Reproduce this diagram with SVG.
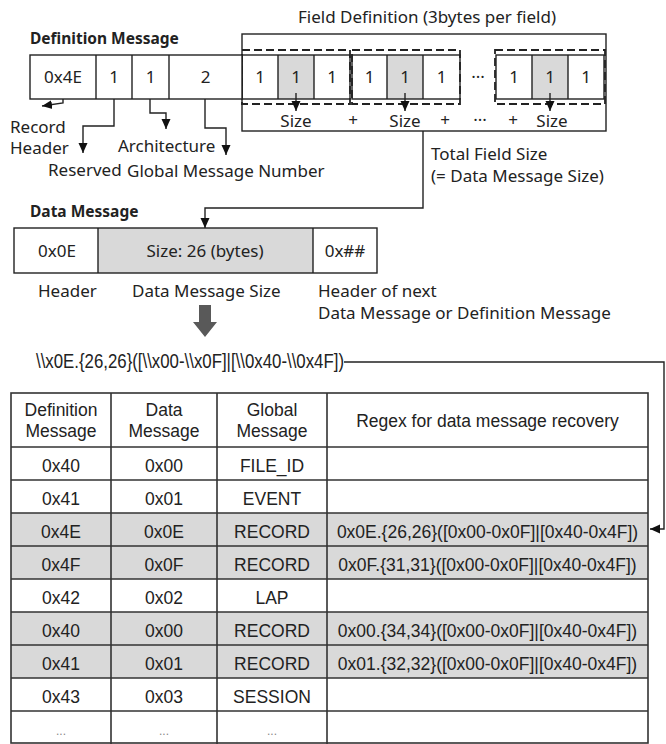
<svg xmlns="http://www.w3.org/2000/svg" width="666" height="744" viewBox="0 0 666 744">
<style>
.t{font-family:"Noto Sans","DejaVu Sans",sans-serif;font-size:17px;fill:#222}
.c{text-anchor:middle}
.b{font-family:"Noto Sans","DejaVu Sans",sans-serif;font-size:15.5px;font-weight:bold;fill:#222}
.tb{font-family:"Liberation Sans",Arial,sans-serif;font-size:17.5px;fill:#222;text-anchor:middle}
.el{font-family:"Liberation Sans",Arial,sans-serif;font-size:12px;fill:#888;text-anchor:middle}
.ln{fill:none;stroke:#222;stroke-width:1.4}
.cell{fill:#fff;stroke:#222;stroke-width:1.4}
.sh{fill:#d9d9d9}
.dash{fill:none;stroke:#222;stroke-width:1.8;stroke-dasharray:8 4}
.tl{stroke:#333;stroke-width:1.6;fill:none}
</style>
<defs>
<marker id="ah" markerUnits="userSpaceOnUse" markerWidth="10" markerHeight="10" refX="10" refY="5" orient="auto">
<path d="M0,0.5 L10,5 L0,9.5 z" fill="#111"/>
</marker>
</defs>

<rect width="666" height="744" fill="#fff"/>

<!-- Titles -->
<text class="t" x="298" y="23">Field Definition (3bytes per field)</text>
<text class="b" x="30" y="44">Definition Message</text>

<g id="field-definition">
<rect x="242" y="34" width="364" height="97" class="ln"/>
<rect x="278" y="55" width="36" height="44" class="sh"/>
<rect x="242" y="55" width="108" height="44" class="ln"/>
<line x1="278" y1="55" x2="278" y2="99" class="ln"/>
<line x1="314" y1="55" x2="314" y2="99" class="ln"/>
<rect x="242" y="50" width="108" height="54" class="dash"/>
<text class="t c" x="260" y="83">1</text><text class="t c" x="296" y="83">1</text><text class="t c" x="332" y="83">1</text>
<rect x="387" y="55" width="36" height="44" class="sh"/>
<rect x="352" y="55" width="108" height="44" class="ln"/>
<line x1="387" y1="55" x2="387" y2="99" class="ln"/>
<line x1="423" y1="55" x2="423" y2="99" class="ln"/>
<rect x="352" y="50" width="108" height="54" class="dash"/>
<text class="t c" x="369.5" y="83">1</text><text class="t c" x="405" y="83">1</text><text class="t c" x="441.5" y="83">1</text>
<text class="t c" x="478" y="83">···</text>
<rect x="532" y="55" width="36" height="44" class="sh"/>
<rect x="496" y="55" width="108" height="44" class="ln"/>
<line x1="532" y1="55" x2="532" y2="99" class="ln"/>
<line x1="568" y1="55" x2="568" y2="99" class="ln"/>
<rect x="495" y="50" width="110" height="54" class="dash"/>
<text class="t c" x="514" y="83">1</text><text class="t c" x="550" y="83">1</text><text class="t c" x="586" y="83">1</text>
<text class="t c" x="296" y="127">Size</text>
<text class="t c" x="353" y="126">+</text>
<text class="t c" x="405" y="127">Size</text>
<text class="t c" x="445" y="126">+</text>
<text class="t c" x="480" y="126">···</text>
<text class="t c" x="513" y="126">+</text>
<text class="t c" x="552" y="127">Size</text>
</g>

<g id="definition-message">
<rect x="30" y="55" width="212" height="44" class="cell"/>
<line x1="96" y1="55" x2="96" y2="99" class="ln"/>
<line x1="132" y1="55" x2="132" y2="99" class="ln"/>
<line x1="169" y1="55" x2="169" y2="99" class="ln"/>
<text class="t c" x="63" y="83">0x4E</text>
<text class="t c" x="114" y="83">1</text>
<text class="t c" x="150.5" y="83">1</text>
<text class="t c" x="205.5" y="83">2</text>
</g>

<g id="labels">
<text class="t" x="10" y="133">Record</text>
<text class="t" x="10" y="154">Header</text>
<text class="t" x="118" y="152">Architecture</text>
<text class="t" x="48" y="176">Reserved</text>
<text class="t" x="127" y="177">Global Message Number</text>
<text class="t" x="431" y="160">Total Field Size</text>
<text class="t" x="431" y="182">(= Data Message Size)</text>
</g>

<g id="data-message">
<text class="b" x="30" y="217">Data Message</text>
<rect x="98" y="228" width="215" height="45" class="sh"/>
<rect x="14" y="228" width="363" height="45" class="ln"/>
<line x1="98" y1="228" x2="98" y2="273" class="ln"/>
<line x1="313" y1="228" x2="313" y2="273" class="ln"/>
<text class="t c" x="57" y="257">0x0E</text>
<text class="t c" x="205" y="257">Size: 26 (bytes)</text>
<text class="t c" x="345" y="257">0x##</text>
<text class="t" x="38" y="297">Header</text>
<text class="t" x="132" y="297">Data Message Size</text>
<text class="t" x="318" y="297">Header of next</text>
<text class="t" x="318" y="319">Data Message or Definition Message</text>
</g>

<polygon id="down-arrow" points="199,305 211,305 211,322 217,322 205,337 193,322 199,322" fill="#595959"/>

<text id="regex" x="36" y="368" font-family="Liberation Sans, Arial, sans-serif" font-size="21" fill="#222" textLength="308" lengthAdjust="spacingAndGlyphs">\\x0E.{26,26}([\\x00-\\x0F]|[\\0x40-\\0x4F])</text>

<g id="connectors">
<path d="M63,99 V103 L42,106" class="ln" marker-end="url(#ah)"/>
<path d="M114,99 V126 H83 V153" class="ln" marker-end="url(#ah)"/>
<path d="M150,99 V113 H166 V129" class="ln" marker-end="url(#ah)"/>
<path d="M205,99 V128 H226 V155" class="ln" marker-end="url(#ah)"/>
<path d="M296,93 V111" class="ln" marker-end="url(#ah)"/>
<path d="M405,93 V111" class="ln" marker-end="url(#ah)"/>
<path d="M550,93 V111" class="ln" marker-end="url(#ah)"/>
<path d="M423,131 V208 H205 V228" class="ln" marker-end="url(#ah)"/>
<path d="M344,362 H664 V529 H650" class="ln" marker-end="url(#ah)"/>
</g>

<g id="table">
<rect x="11" y="513" width="637" height="66" class="sh"/>
<rect x="11" y="612" width="637" height="66" class="sh"/>
<rect x="11" y="393" width="637" height="350" class="tl"/>
<path class="tl" d="M111,393 V744 M217,393 V744 M327,393 V744 M11,447 H648 M11,480 H648 M11,513 H648 M11,546 H648 M11,579 H648 M11,612 H648 M11,645 H648 M11,678 H648 M11,711 H648"/>
<text class="tb" x="61" y="416">Definition</text>
<text class="tb" x="61" y="437">Message</text>
<text class="tb" x="164" y="416">Data</text>
<text class="tb" x="164" y="437">Message</text>
<text class="tb" x="272" y="416">Global</text>
<text class="tb" x="272" y="437">Message</text>
<text class="tb" x="487.5" y="427">Regex for data message recovery</text>

<text class="tb" x="61" y="472">0x40</text><text class="tb" x="164" y="472">0x00</text><text class="tb" x="272" y="472">FILE_ID</text>
<text class="tb" x="61" y="505">0x41</text><text class="tb" x="164" y="505">0x01</text><text class="tb" x="272" y="505">EVENT</text>
<text class="tb" x="61" y="538">0x4E</text><text class="tb" x="164" y="538">0x0E</text><text class="tb" x="272" y="538">RECORD</text>
<text class="tb" x="487.5" y="538">0x0E.{26,26}([0x00-0x0F]|[0x40-0x4F])</text>
<text class="tb" x="61" y="571">0x4F</text><text class="tb" x="164" y="571">0x0F</text><text class="tb" x="272" y="571">RECORD</text>
<text class="tb" x="487.5" y="571">0x0F.{31,31}([0x00-0x0F]|[0x40-0x4F])</text>
<text class="tb" x="61" y="604">0x42</text><text class="tb" x="164" y="604">0x02</text><text class="tb" x="272" y="604">LAP</text>
<text class="tb" x="61" y="637">0x40</text><text class="tb" x="164" y="637">0x00</text><text class="tb" x="272" y="637">RECORD</text>
<text class="tb" x="487.5" y="637">0x00.{34,34}([0x00-0x0F]|[0x40-0x4F])</text>
<text class="tb" x="61" y="670">0x41</text><text class="tb" x="164" y="670">0x01</text><text class="tb" x="272" y="670">RECORD</text>
<text class="tb" x="487.5" y="670">0x01.{32,32}([0x00-0x0F]|[0x40-0x4F])</text>
<text class="tb" x="61" y="703">0x43</text><text class="tb" x="164" y="703">0x03</text><text class="tb" x="272" y="703">SESSION</text>
<text class="el" x="61" y="735">...</text><text class="el" x="164" y="735">...</text><text class="el" x="272" y="735">...</text>
</g>
</svg>
